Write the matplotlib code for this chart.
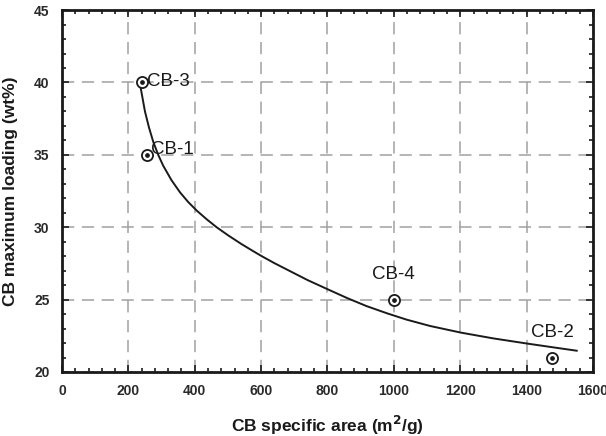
import matplotlib
matplotlib.use("Agg")
import matplotlib.pyplot as plt
from matplotlib.ticker import MultipleLocator

# measured samples
names = ["CB-3", "CB-1", "CB-4", "CB-2"]
area = [240, 255, 1000, 1477]
loading = [40.0, 35.0, 25.0, 21.0]

# fitted trend curve
fit_x = [235, 250, 262, 275, 290, 305, 330, 356, 380, 406, 436, 466, 500,
         540, 576, 602, 640, 687, 740, 802, 860, 918, 980, 1038, 1109, 1202,
         1300, 1400, 1475, 1551]
fit_y = [39.9, 38.0, 36.9, 35.9, 35.0, 34.25, 33.25, 32.4, 31.75, 31.15,
         30.55, 30.0, 29.45, 28.85, 28.35, 28.0, 27.52, 26.97, 26.35, 25.7,
         25.1, 24.55, 24.05, 23.62, 23.18, 22.72, 22.32, 21.97, 21.72, 21.47]

INK = "#1a1a1a"
GRID = "#a0a0a0"

plt.rcParams.update({
    "font.family": ["Liberation Sans", "DejaVu Sans"],
    "font.size": 10,
})

fig = plt.figure(figsize=(6.06, 4.36), dpi=100)
ax = fig.add_axes([0.1023, 0.1468, 0.8762, 0.830])

ax.plot(fit_x, fit_y, color=INK, lw=1.4, zorder=3)
ax.plot(area, loading, ls="none", marker="o", ms=8, mfc="white",
        mec=INK, mew=1.3, zorder=4)
ax.plot(area, loading, ls="none", marker="o", ms=2.4, color=INK, zorder=5)

offsets = {"CB-3": (4, 1, "left", "center"),
           "CB-1": (3, 4, "left", "center"),
           "CB-4": (0, 12, "center", "bottom"),
           "CB-2": (0, 12, "center", "bottom")}
for nm, x, y in zip(names, area, loading):
    dx, dy, ha, va = offsets[nm]
    ax.annotate(nm, (x, y), xytext=(dx, dy), textcoords="offset points",
                ha=ha, va=va, fontsize=13.5, color=INK)

ax.set_xlim(0, 1600)
ax.set_ylim(20, 45)
ax.xaxis.set_major_locator(MultipleLocator(200))
ax.xaxis.set_minor_locator(MultipleLocator(40))
ax.yaxis.set_major_locator(MultipleLocator(5))
ax.yaxis.set_minor_locator(MultipleLocator(1))
ax.tick_params(which="both", direction="in", top=True, right=True,
               color=INK, width=1.2)
ax.tick_params(which="major", length=5, labelsize=10, pad=9)
ax.tick_params(which="minor", length=3)
for lab in ax.get_xticklabels() + ax.get_yticklabels():
    lab.set_fontweight("bold")
    lab.set_color("#2a2a2a")
for sp in ax.spines.values():
    sp.set_linewidth(2.0)
    sp.set_color(INK)

ax.grid(True, which="major", color=GRID, lw=1.1, ls=(0, (8, 5)))
ax.set_axisbelow(True)

fig.text(0.540, 0.025, "CB specific area (m$^\\mathbf{2}$/g)", fontsize=12.5,
         fontweight="bold", ha="center", va="center", color=INK)
fig.text(0.018, 0.562, "CB maximum loading (wt%)", fontsize=12.5,
         fontweight="bold", ha="center", va="center", rotation=90, color=INK)

fig.savefig("out.png", dpi=100)
